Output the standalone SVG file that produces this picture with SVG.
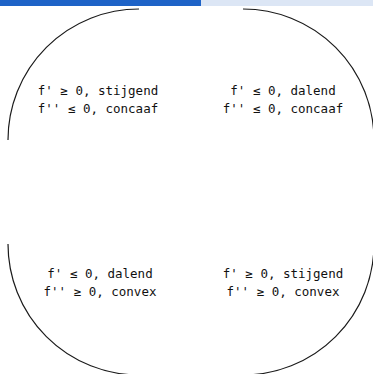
<svg xmlns="http://www.w3.org/2000/svg" width="373" height="374" viewBox="0 0 373 374">
<style>
.arc{fill:none;stroke:#1a1a1a;stroke-width:1.2}
.t{font-family:"DejaVu Sans Mono","Liberation Mono",monospace;font-size:12.5px;fill:#111;text-anchor:middle}
</style>
<rect x="0" y="0" width="373" height="374" fill="#fff"/>
<g id="topbar">
<rect x="0" y="0" width="201" height="6" fill="#1e63c7"/>
<rect x="201" y="0" width="172" height="6" fill="#dce6f5"/>
</g>
<g id="connectors">
<path class="arc" d="M139,9 A131,131 0 0 0 8,140"/>
<path class="arc" d="M243,9 A131,131 0 0 1 374,140"/>
<path class="arc" d="M8,244 A131,131 0 0 0 139,375"/>
<path class="arc" d="M374,244 A131,131 0 0 1 243,375"/>
</g>
<g id="q1">
<text class="t" x="98" y="95">f' ≥ 0, stijgend</text>
<text class="t" x="98" y="113">f'' ≤ 0, concaaf</text>
</g>
<g id="q2">
<text class="t" x="283" y="95">f' ≤ 0, dalend</text>
<text class="t" x="283" y="113">f'' ≤ 0, concaaf</text>
</g>
<g id="q3">
<text class="t" x="100" y="278">f' ≤ 0, dalend</text>
<text class="t" x="100" y="296">f'' ≥ 0, convex</text>
</g>
<g id="q4">
<text class="t" x="283" y="278">f' ≥ 0, stijgend</text>
<text class="t" x="283" y="296">f'' ≥ 0, convex</text>
</g>
</svg>
